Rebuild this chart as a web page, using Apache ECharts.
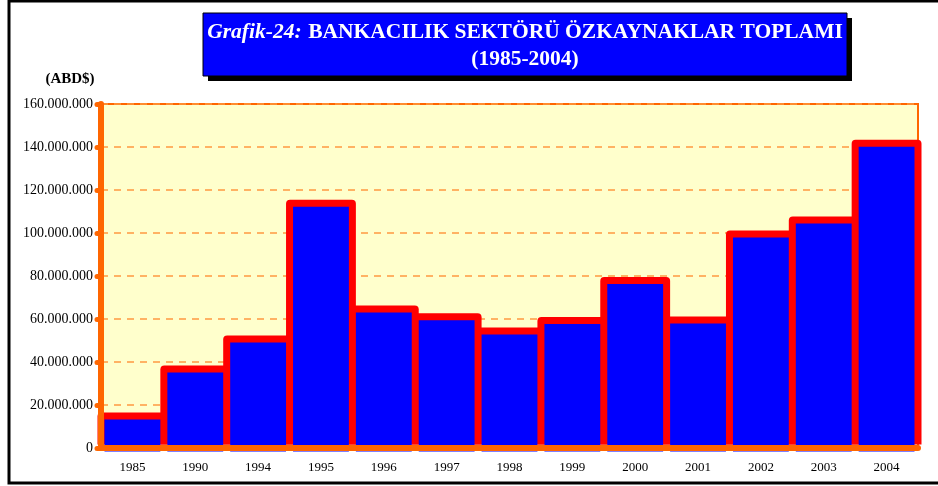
<!DOCTYPE html>
<html>
<head>
<meta charset="utf-8">
<script src="https://cdn.jsdelivr.net/npm/echarts@6/dist/echarts.min.js"></script>
<style>
  html, body { margin: 0; padding: 0; background: #fff; }
  #chart { width: 938px; height: 486px; }
</style>
</head>
<body>
<div id="chart"></div>
<script>
// yillar ve ozkaynak toplamlari (ABD$)
const years = ['1985', '1990', '1994', '1995', '1996', '1997', '1998', '1999', '2000', '2001', '2002', '2003', '2004'];
const equity = [14900000, 36700000, 50700000, 113800000, 64600000, 61100000, 54400000, 59300000, 77900000, 59500000, 99500000, 106000000, 141700000];
const yTicks = { min: 0, max: 160000000, interval: 20000000 };

const fmt = v => String(v).replace(/\B(?=(\d{3})+(?!\d))/g, '.');
const serif = '"Liberation Serif", "Times New Roman", serif';

// excel'deki kalin kenarlik: kirmizi dis cubuk + mavi ic cubuk,
// ikisi de yarim kenarlik kadar kaydirilmis gizli eksenlere bagli
const plotW = 817, plotH = 344, border = 7;
const catW = plotW / years.length;
const shift = (border / 2) * (yTicks.max - yTicks.min) / plotH;

const chart = echarts.init(document.getElementById('chart'));
chart.setOption({
    animation: false,
    grid: {
        left: 101, right: 20, top: 104, bottom: 38,
        show: true,
        backgroundColor: '#ffffcc',
        borderColor: '#ff6600',
        borderWidth: 2
    },
    xAxis: [
        {
            type: 'category',
            data: years,
            z: 5,
            axisLine: { lineStyle: { color: '#ff6600', width: 6 } },
            axisTick: { length: 4, lineStyle: { color: '#ff6600', width: 5, cap: 'round' } },
            axisLabel: { color: '#000', fontFamily: serif, fontSize: 13, margin: 13 }
        },
        { type: 'category', data: years, show: false }
    ],
    yAxis: [
        {
            type: 'value',
            min: yTicks.min, max: yTicks.max, interval: yTicks.interval,
            z: 5,
            axisLine: { show: true, lineStyle: { color: '#ff6600', width: 6 } },
            axisTick: { show: true, length: 4, lineStyle: { color: '#ff6600', width: 5, cap: 'round' } },
            axisLabel: { color: '#000', fontFamily: serif, fontSize: 14, margin: 8, formatter: fmt },
            splitLine: { show: false }
        },
        {
            type: 'value',
            min: yTicks.min, max: yTicks.max, interval: yTicks.interval,
            position: 'left',
            z: 0,
            axisLine: { show: false },
            axisTick: { show: false },
            axisLabel: { show: false },
            splitLine: { lineStyle: { color: '#ff9940', width: 1.5, type: [7, 6] } }
        },
        // kirmizi: ust kenar yarim kenarlik yukarida
        { type: 'value', show: false, min: yTicks.min - shift, max: yTicks.max - shift, splitLine: { show: false } },
        // mavi: ust kenar yarim kenarlik asagida
        { type: 'value', show: false, min: yTicks.min + shift, max: yTicks.max + shift, splitLine: { show: false } }
    ],
    series: [
        {
            type: 'bar',
            data: equity,
            xAxisIndex: 0,
            yAxisIndex: 2,
            barWidth: catW + border,
            clip: false,
            itemStyle: { color: '#ff0000', borderRadius: [4, 4, 0, 0] }
        },
        {
            type: 'bar',
            data: equity,
            xAxisIndex: 1,
            yAxisIndex: 3,
            barWidth: catW - border,
            clip: false,
            itemStyle: { color: '#0000ff' }
        }
    ],
    graphic: [
        // dis cerceve
        { type: 'rect', shape: { x: 9, y: 1, width: 940, height: 482 }, style: { fill: 'none', stroke: '#000', lineWidth: 3 }, silent: true },
        // baslik kutusu
        { type: 'rect', shape: { x: 208, y: 18, width: 644, height: 63 }, style: { fill: '#000' }, silent: true },
        { type: 'rect', shape: { x: 203, y: 13, width: 644, height: 63 }, style: { fill: '#0000ff', stroke: '#000', lineWidth: 1 }, silent: true },
        {
            type: 'text', x: 525, y: 32,
            style: {
                text: '{i|Grafik-24:}  {b|BANKACILIK SEKTÖRÜ ÖZKAYNAKLAR TOPLAMI}',
                align: 'center', verticalAlign: 'middle',
                rich: {
                    i: { fontFamily: serif, fontSize: 21.5, fontStyle: 'italic', fontWeight: 'bold', fill: '#fff' },
                    b: { fontFamily: serif, fontSize: 21.5, fontWeight: 'bold', fill: '#fff' }
                }
            }
        },
        {
            type: 'text', x: 525, y: 59,
            style: { text: '(1985-2004)', align: 'center', verticalAlign: 'middle', fontFamily: serif, fontSize: 21.5, fontWeight: 'bold', fill: '#fff' }
        },
        {
            type: 'text', x: 70, y: 79,
            style: { text: '(ABD$)', align: 'center', verticalAlign: 'middle', fontFamily: serif, fontSize: 15, fontWeight: 'bold', fill: '#000' }
        }
    ]
});
</script>
</body>
</html>
